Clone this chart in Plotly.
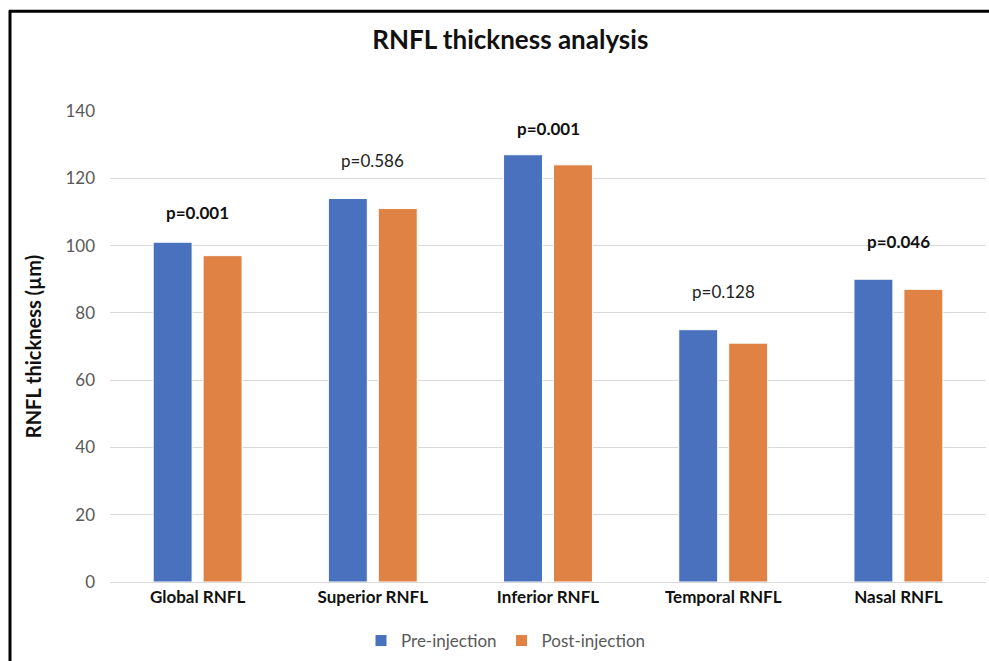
import plotly.graph_objects as go

categories = ["Global RNFL", "Superior RNFL", "Inferior RNFL", "Temporal RNFL", "Nasal RNFL"]
pre_injection = [101, 114, 127, 75, 90]
post_injection = [97, 111, 124, 71, 87]
p_labels = ["p=0.001", "p=0.586", "p=0.001", "p=0.128", "p=0.046"]
p_bold = [True, False, True, False, True]
y_ticks = [0, 20, 40, 60, 80, 100, 120, 140]

FONT = "Lato, 'Open Sans', sans-serif"
BLUE = "#4A71BE"
ORANGE = "#DF8244"
W, H = 989, 661
ML, MR, MT, MB = 110, 3, 111, 78

fig = go.Figure()
fig.add_trace(go.Bar(x=categories, y=pre_injection, name="Pre-injection",
                     marker=dict(color=BLUE, line=dict(color="white", width=1))))
fig.add_trace(go.Bar(x=categories, y=post_injection, name="Post-injection",
                     marker=dict(color=ORANGE, line=dict(color="white", width=1))))

label_shift = [30, 38, 26, 38, 38]
for cat, a, b, lab, bold, sh in zip(categories, pre_injection, post_injection, p_labels, p_bold, label_shift):
    fig.add_annotation(x=cat, y=max(a, b), yshift=sh, showarrow=False,
                       text=f"<b>{lab}</b>" if bold else lab,
                       font=dict(family=FONT, size=17, color="#111111" if bold else "#222222"),
                       xanchor="center", yanchor="middle")

pw = W - ML - MR
ph = H - MT - MB
px = lambda p: (p - ML) / pw
py = lambda p: (H - MB - p) / ph
fig.add_shape(type="line", xref="paper", yref="paper",
              x0=px(10), x1=px(10), y0=py(H + 10), y1=py(10),
              line=dict(color="black", width=3), layer="above")
fig.add_shape(type="line", xref="paper", yref="paper",
              x0=px(9), x1=px(W + 10), y0=py(11), y1=py(11),
              line=dict(color="black", width=3), layer="above")

fig.update_layout(
    width=W, height=H,
    margin=dict(l=ML, r=MR, t=MT, b=MB),
    paper_bgcolor="white", plot_bgcolor="white",
    barmode="group", bargap=0.43, bargroupgap=0.22,
    title=dict(text="<b>RNFL thickness analysis</b>", x=0.516, xanchor="center",
               y=1 - 40 / H, yanchor="middle",
               font=dict(family=FONT, size=26, color="#111111")),
    font=dict(family=FONT),
    legend=dict(orientation="h", x=px(506), xanchor="center", y=py(641), yanchor="middle",
                font=dict(family=FONT, size=17, color="#595959"),
                itemwidth=30, tracegroupgap=0, traceorder="normal"),
    showlegend=True,
)
fig.update_xaxes(showgrid=False, showline=True, linecolor="#D9D9D9", linewidth=1,
                 ticks="", tickfont=dict(family=FONT, size=17, color="#111111"),
                 tickprefix="<b>", ticksuffix="</b>")
fig.update_yaxes(range=[0, 140], tickvals=y_ticks, showgrid=True, gridcolor="#D9D9D9",
                 gridwidth=1, zeroline=False, showline=False, ticks="",
                 tickfont=dict(family=FONT, size=17, color="#595959"), ticklabelstandoff=14,
                 title=dict(text="<b>RNFL thickness (µm)</b>", standoff=18,
                            font=dict(family=FONT, size=20, color="#111111")))

fig.write_html("out.html")
